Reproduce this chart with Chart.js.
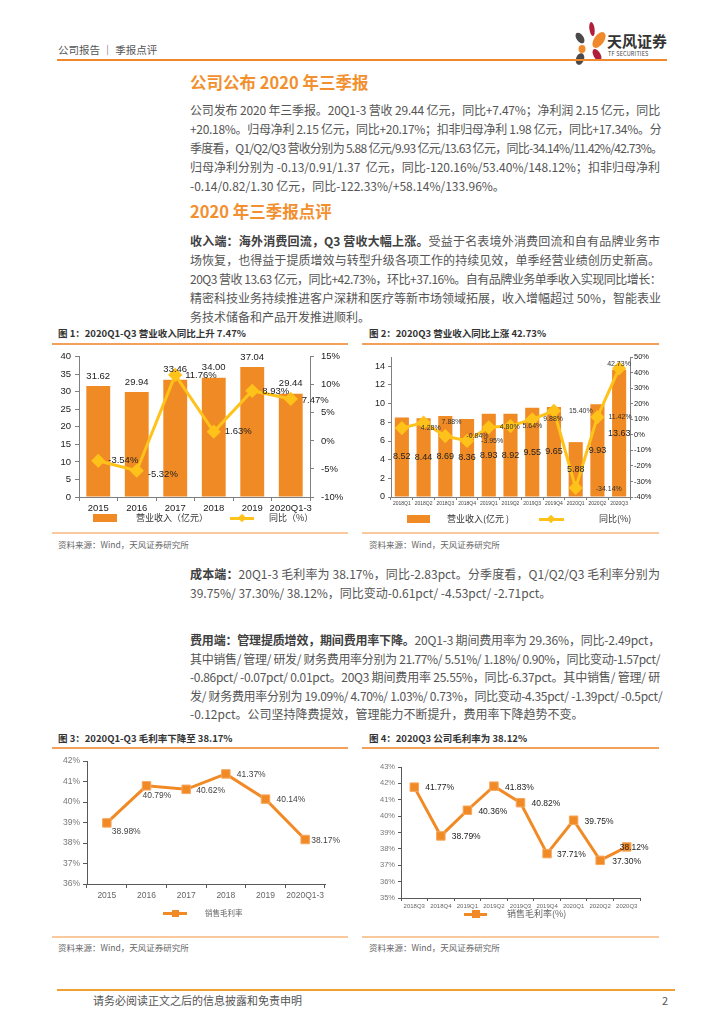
<!DOCTYPE html>
<html>
<head>
<meta charset="utf-8">
<script src="https://cdn.jsdelivr.net/npm/chart.js@4.4.1/dist/chart.umd.min.js"></script>
<style>
  html, body { margin: 0; padding: 0; background: #fff; }
  body { width: 724px; height: 1024px; position: relative; overflow: hidden; font-family: "Noto Sans CJK SC", sans-serif; color: #555; }
  .abs { position: absolute; }
  .rule { position: absolute; height: 2px; background: #F0892B; }
  .h1 { position: absolute; left: 190px; font-size: 16.5px; font-weight: 700; color: #F2902F; line-height: 24px; white-space: nowrap; }
  .para { position: absolute; left: 190px; width: 470px; font-size: 12px; }
  .ln { white-space: nowrap; text-align: justify; text-align-last: justify; height: 19px; line-height: 19px; }
  .ln.last { text-align-last: left; }
  .p2 .ln { height: 18.5px; line-height: 18.5px; }
  b { color: #404040; font-weight: 700; }
  .ftitle { position: absolute; font-size: 9.5px; font-weight: 700; color: #333; line-height: 14px; white-space: nowrap; }
  .fline { position: absolute; height: 1.5px; background: #F3A15A; }
  .fbot { position: absolute; height: 2px; background: #F9C89C; }
  .src { position: absolute; font-size: 8.5px; color: #666; line-height: 12px; white-space: nowrap; }
  .box { position: absolute; }
  .lg { position: absolute; white-space: nowrap; line-height: 12px; }
</style>
</head>
<body>

<!-- header -->
<div class="abs" style="left:58px;top:43px;font-size:10.5px;color:#555;line-height:14px;">公司报告 ｜ 季报点评</div>
<svg class="abs" style="left:566px;top:18px" width="40" height="48" viewBox="566 18 40 48">
  <ellipse cx="592" cy="29" rx="2.6" ry="7" fill="#B01E3C" transform="rotate(-8 592 29)"/>
  <ellipse cx="599" cy="40" rx="5" ry="9" fill="#F0892B" transform="rotate(35 599 40)"/>
  <ellipse cx="580" cy="38" rx="3.5" ry="6" fill="#4A4A4A" transform="rotate(-35 580 38)"/>
  <ellipse cx="582" cy="49" rx="3.5" ry="4" fill="#F0892B"/>
  <ellipse cx="597" cy="55" rx="3.5" ry="6.5" fill="#B01E3C" transform="rotate(-30 597 55)"/>
  <ellipse cx="580" cy="59" rx="4" ry="6" fill="#4A4A4A" transform="rotate(20 580 59)"/>
</svg>
<div class="abs" style="left:607px;top:32px;font-size:15px;font-weight:700;color:#333;line-height:18px;">天风证券</div>
<div class="abs" style="left:608px;top:51px;font-size:5.5px;color:#444;line-height:7px;letter-spacing:0.2px;">TF SECURITIES</div>
<div class="rule" style="left:57px;top:59px;width:610px;"></div>

<!-- section 1 -->
<div class="h1" style="top:70px;">公司公布 2020 年三季报</div>
<div class="para" style="top:100px;">
  <div class="ln">公司发布 2020 年三季报。20Q1-3 营收 29.44 亿元，同比+7.47%；净利润 2.15 亿元，同比</div>
  <div class="ln">+20.18%。归母净利 2.15 亿元，同比+20.17%；扣非归母净利 1.98 亿元，同比+17.34%。分</div>
  <div class="ln">季度看，Q1/Q2/Q3 营收分别为 5.88 亿元/9.93 亿元/13.63 亿元，同比-34.14%/11.42%/42.73%。</div>
  <div class="ln">归母净利分别为 -0.13/0.91/1.37 &nbsp;亿元，同比-120.16%/53.40%/148.12%；扣非归母净利</div>
  <div class="ln last">-0.14/0.82/1.30 亿元，同比-122.33%/+58.14%/133.96%。</div>
</div>

<div class="h1" style="top:199px;">2020 年三季报点评</div>
<div class="para" style="top:231px;">
  <div class="ln"><b>收入端：海外消费回流，Q3 营收大幅上涨。</b>受益于名表境外消费回流和自有品牌业务市</div>
  <div class="ln">场恢复，也得益于提质增效与转型升级各项工作的持续见效，单季经营业绩创历史新高。</div>
  <div class="ln">20Q3 营收 13.63 亿元，同比+42.73%，环比+37.16%。自有品牌业务单季收入实现同比增长：</div>
  <div class="ln">精密科技业务持续推进客户深耕和医疗等新市场领域拓展，收入增幅超过 50%，智能表业</div>
  <div class="ln last">务技术储备和产品开发推进顺利。</div>
</div>

<!-- figure 1 & 2 frames -->
<div class="ftitle" style="left:58px;top:326px;">图 1：2020Q1-Q3 营业收入同比上升 7.47%</div>
<div class="fline" style="left:52px;top:343px;width:296px;"></div>
<div class="fbot" style="left:52px;top:532px;width:296px;"></div>
<div class="src" style="left:58px;top:538px;">资料来源：Wind，天风证券研究所</div>

<div class="ftitle" style="left:369px;top:326px;">图 2：2020Q3 营业收入同比上涨 42.73%</div>
<div class="fline" style="left:362px;top:343px;width:297px;"></div>
<div class="fbot" style="left:362px;top:532px;width:297px;"></div>
<div class="src" style="left:369px;top:538px;">资料来源：Wind，天风证券研究所</div>

<div class="box" style="left:40px;top:344px;width:312px;height:171px;"><canvas id="c1"></canvas></div>
<div class="box" style="left:362px;top:345px;width:290px;height:170px;"><canvas id="c2"></canvas></div>

<!-- legends 1 & 2 -->
<div class="abs" style="left:93px;top:514px;width:24px;height:8px;background:#F08A24;"></div>
<div class="lg" style="left:136px;top:512px;font-size:9px;color:#333;">营业收入（亿元）</div>
<div class="abs" style="left:230px;top:516.5px;width:24px;height:3px;background:#FFC21A;"></div>
<div class="abs" style="left:239px;top:515px;width:6px;height:6px;background:#FFC21A;transform:rotate(45deg);"></div>
<div class="lg" style="left:269px;top:512px;font-size:9px;color:#333;">同比（%）</div>

<div class="abs" style="left:407px;top:515px;width:23px;height:8px;background:#F08A24;"></div>
<div class="lg" style="left:447px;top:513px;font-size:9px;color:#333;">营业收入(亿元 )</div>
<div class="abs" style="left:539px;top:517.5px;width:25px;height:3px;background:#FFC21A;"></div>
<div class="abs" style="left:548px;top:516px;width:6px;height:6px;background:#FFC21A;transform:rotate(45deg);"></div>
<div class="lg" style="left:599px;top:513px;font-size:9px;color:#333;">同比(%)</div>

<!-- section text -->
<div class="para p2" style="top:565px;">
  <div class="ln"><b>成本端：</b>20Q1-3 毛利率为 38.17%，同比-2.83pct。分季度看，Q1/Q2/Q3 毛利率分别为</div>
  <div class="ln last">39.75%/ 37.30%/ 38.12%，同比变动-0.61pct/ -4.53pct/ -2.71pct。</div>
</div>
<div class="para p2" style="top:631px;">
  <div class="ln"><b>费用端：管理提质增效，期间费用率下降。</b>20Q1-3 期间费用率为 29.36%，同比-2.49pct，</div>
  <div class="ln">其中销售/ 管理/ 研发/ 财务费用率分别为 21.77%/ 5.51%/ 1.18%/ 0.90%，同比变动-1.57pct/</div>
  <div class="ln">-0.86pct/ -0.07pct/ 0.01pct。20Q3 期间费用率 25.55%，同比-6.37pct。其中销售/ 管理/ 研</div>
  <div class="ln">发/ 财务费用率分别为 19.09%/ 4.70%/ 1.03%/ 0.73%，同比变动-4.35pct/ -1.39pct/ -0.5pct/</div>
  <div class="ln last">-0.12pct。公司坚持降费提效，管理能力不断提升，费用率下降趋势不变。</div>
</div>

<!-- figure 3 & 4 frames -->
<div class="ftitle" style="left:58px;top:731px;">图 3：2020Q1-Q3 毛利率下降至 38.17%</div>
<div class="fline" style="left:52px;top:747px;width:296px;"></div>
<div class="fbot" style="left:52px;top:936px;width:296px;"></div>
<div class="src" style="left:58px;top:941px;">资料来源：Wind，天风证券研究所</div>

<div class="ftitle" style="left:369px;top:731px;">图 4：2020Q3 公司毛利率为 38.12%</div>
<div class="fline" style="left:362px;top:747px;width:297px;"></div>
<div class="fbot" style="left:362px;top:936px;width:297px;"></div>
<div class="src" style="left:369px;top:941px;">资料来源：Wind，天风证券研究所</div>

<div class="box" style="left:40px;top:750px;width:300px;height:155px;"><canvas id="c3"></canvas></div>
<div class="box" style="left:362px;top:755px;width:290px;height:160px;"><canvas id="c4"></canvas></div>

<!-- legends 3 & 4 -->
<div class="abs" style="left:163px;top:911.5px;width:24px;height:3px;background:#F18A25;"></div>
<div class="abs" style="left:171.5px;top:909.5px;width:7px;height:7px;background:#F18A25;"></div>
<div class="lg" style="left:205px;top:907px;font-size:7.5px;color:#666;">销售毛利率</div>
<div class="abs" style="left:464px;top:912.5px;width:23px;height:3px;background:#F18A25;"></div>
<div class="abs" style="left:472px;top:910px;width:8px;height:8px;background:#F18A25;"></div>
<div class="lg" style="left:507px;top:908px;font-size:9px;color:#666;">销售毛利率(%)</div>

<!-- footer -->
<div class="rule" style="left:57px;top:989px;width:618px;height:2px;background:#F0A030;"></div>
<div class="abs" style="left:93px;top:993px;font-size:11px;color:#555;line-height:14px;">请务必阅读正文之后的信息披露和免责申明</div>
<div class="abs" style="left:662px;top:993px;font-size:11px;color:#555;line-height:14px;">2</div>

<script>
// figure 1: annual revenue and yoy
const years = ['2015', '2016', '2017', '2018', '2019', '2020Q1-3'];
const revenue = [31.62, 29.94, 33.46, 34.00, 37.04, 29.44];
const revenueYoy = [-3.54, -5.32, 11.76, 1.63, 8.93, 7.47];

// figure 2: quarterly revenue and yoy
const quarters = ['2018Q1', '2018Q2', '2018Q3', '2018Q4', '2019Q1', '2019Q2', '2019Q3', '2019Q4', '2020Q1', '2020Q2', '2020Q3'];
const qRevenue = [8.52, 8.44, 8.69, 8.36, 8.93, 8.92, 9.55, 9.65, 5.88, 9.93, 13.63];
const qYoy = [4.28, 7.88, -0.84, -3.95, 4.80, 5.64, 9.88, 15.40, -34.14, 11.42, 42.73];

// figure 3: annual gross margin
const grossMargin = [38.98, 40.79, 40.62, 41.37, 40.14, 38.17];

// figure 4: quarterly gross margin
const marginQuarters = ['2018Q3', '2018Q4', '2019Q1', '2019Q2', '2019Q3', '2019Q4', '2020Q1', '2020Q2', '2020Q3'];
const qGrossMargin = [41.77, 38.79, 40.36, 41.83, 40.82, 37.71, 39.75, 37.30, 38.12];

const ORANGE = '#F08A24';
const YELLOW = '#FFC21A';
const LINE_ORANGE = '#F18A25';
const SANS = "'Liberation Sans', Arial, sans-serif";

// squeeze text lines that run past the column
document.querySelectorAll('.ln').forEach(ln => {
    let ls = 0;
    while (ln.scrollWidth > ln.clientWidth + 2 && ls > -1.5) {
        ls -= 0.1;
        ln.style.letterSpacing = ls.toFixed(1) + 'px';
    }
});

Chart.defaults.font.family = SANS;
Chart.defaults.color = '#333';
Chart.defaults.animation = false;

// draws value labels next to points / on bars
const pointLabels = {
    id: 'pointLabels',
    afterDatasetsDraw(chart, args, opts) {
        const ctx = chart.ctx;
        (opts.sets || []).forEach(set => {
            const meta = chart.getDatasetMeta(set.dataset);
            const values = chart.data.datasets[set.dataset].data;
            ctx.save();
            ctx.font = set.font;
            ctx.fillStyle = set.color || '#222';
            ctx.textBaseline = 'middle';
            meta.data.forEach((el, i) => {
                const pick = (v, d) => Array.isArray(v) ? v[i] : (v === undefined ? d : v);
                const y = set.middle ? (el.y + el.base) / 2 : el.y;
                ctx.textAlign = pick(set.align, 'center');
                ctx.fillText(set.format(values[i]), el.x + pick(set.dx, 0), y + pick(set.dy, 0));
            });
            ctx.restore();
        });
    }
};

const fixW = w => s => { s.width = w; };
const fixH = h => s => { s.height = h; };
const pct = v => v + '%';
const pct2 = v => v.toFixed(2) + '%';

const axis = (color, len, extra) => Object.assign({
    grid: { drawOnChartArea: false, drawTicks: true, tickLength: len, color: color },
    border: { display: true, color: color, width: 1 }
}, extra);

// figure 1
new Chart(document.getElementById('c1'), {
    type: 'bar',
    data: {
        labels: years,
        datasets: [{
            type: 'line', data: revenueYoy, yAxisID: 'y1', order: 0,
            borderColor: YELLOW, backgroundColor: YELLOW, borderWidth: 3,
            pointStyle: 'rectRot', pointRadius: 5, pointBackgroundColor: YELLOW, pointBorderColor: YELLOW
        }, {
            type: 'bar', data: revenue, yAxisID: 'y', order: 1,
            backgroundColor: ORANGE, categoryPercentage: 1, barPercentage: 0.62
        }]
    },
    options: {
        responsive: true, maintainAspectRatio: false, animation: false,
        layout: { padding: { top: 12 } },
        plugins: {
            legend: { display: false }, tooltip: { enabled: false },
            pointLabels: { sets: [
                { dataset: 1, font: '9.5px ' + SANS, color: '#222', format: v => v.toFixed(2), dy: -10 },
                { dataset: 0, font: '9.5px ' + SANS, color: '#222', format: pct2, align: 'left',
                  dx: [10, 11, 10, 11, 10, 11], dy: [0, 4, 0, 0, 1, 1] }
            ] }
        },
        scales: {
            x: axis('#7F7F7F', 4, { ticks: { font: { size: 9.5 }, color: '#222', padding: 2, maxRotation: 0, autoSkip: false }, afterFit: fixH(18) }),
            y: axis('#7F7F7F', 4, { position: 'left', min: 0, max: 40,
                ticks: { stepSize: 5, font: { size: 9.5 }, color: '#222', padding: 4 }, afterFit: fixW(39) }),
            y1: axis('#7F7F7F', 4, { position: 'right', min: -10, max: 15,
                ticks: { stepSize: 5, font: { size: 9.5 }, color: '#222', padding: 7, callback: pct }, afterFit: fixW(42) })
        }
    },
    plugins: [pointLabels]
});

// figure 2
new Chart(document.getElementById('c2'), {
    type: 'bar',
    data: {
        labels: quarters,
        datasets: [{
            type: 'line', data: qYoy, yAxisID: 'y1', order: 0,
            borderColor: YELLOW, backgroundColor: YELLOW, borderWidth: 3,
            pointStyle: 'rectRot', pointRadius: 5, pointBackgroundColor: YELLOW, pointBorderColor: YELLOW
        }, {
            type: 'bar', data: qRevenue, yAxisID: 'y', order: 1,
            backgroundColor: ORANGE, categoryPercentage: 1, barPercentage: 0.65
        }]
    },
    options: {
        responsive: true, maintainAspectRatio: false, animation: false,
        layout: { padding: { top: 12 } },
        plugins: {
            legend: { display: false }, tooltip: { enabled: false },
            pointLabels: { sets: [
                { dataset: 1, font: '9px ' + SANS, color: '#222', format: v => v.toFixed(2), middle: true },
                { dataset: 0, font: '7px ' + SANS, color: '#333', format: pct2, align: 'left',
                  dx: [19, 18, 21, 14, 11, 12, 11, 15, 20, 11, -12], dy: [0, 0, 0, 0, 0, 0, 0, 0, 1, 0, -4] }
            ] }
        },
        scales: {
            x: axis('#7F7F7F', 3, { ticks: { font: { size: 5 }, color: '#444', padding: 1, maxRotation: 0, autoSkip: false }, afterFit: fixH(18) }),
            y: axis('#7F7F7F', 3, { position: 'left', min: 0, max: 15,
                ticks: { stepSize: 2, includeBounds: false, font: { size: 9 }, color: '#222', padding: 3 },
                afterFit: fixW(29) }),
            y1: axis('#7F7F7F', 3, { position: 'right', min: -40, max: 50,
                ticks: { stepSize: 10, font: { size: 7.5 }, color: '#222', padding: 1, callback: pct }, afterFit: fixW(22) })
        }
    },
    plugins: [pointLabels]
});

// figure 3
new Chart(document.getElementById('c3'), {
    type: 'line',
    data: {
        labels: years,
        datasets: [{
            data: grossMargin, borderColor: LINE_ORANGE, backgroundColor: LINE_ORANGE, borderWidth: 3,
            pointStyle: 'rect', pointRadius: 6, pointBackgroundColor: LINE_ORANGE,
            pointBorderColor: '#F6A860', pointBorderWidth: 1, tension: 0
        }]
    },
    options: {
        responsive: true, maintainAspectRatio: false, animation: false,
        layout: { padding: { top: 11, right: 15 } },
        plugins: {
            legend: { display: false }, tooltip: { enabled: false },
            pointLabels: { sets: [
                { dataset: 0, font: '8.5px ' + SANS, color: '#444', format: pct2, align: 'left',
                  dx: [5, -4, 10, 11, 11, 6], dy: [9, 10, 1, 1, 1, 1] }
            ] }
        },
        scales: {
            x: axis('#595959', 4, { offset: true, grid: { offset: true, drawOnChartArea: false, tickLength: 4, color: '#595959' },
                ticks: { font: { size: 8.5 }, color: '#666', padding: 3, maxRotation: 0, autoSkip: false }, afterFit: fixH(21) }),
            y: axis('#595959', 4, { min: 36, max: 42,
                ticks: { stepSize: 1, font: { size: 8.5 }, color: '#777', padding: 3, callback: pct }, afterFit: fixW(47) })
        }
    },
    plugins: [pointLabels]
});

// figure 4
new Chart(document.getElementById('c4'), {
    type: 'line',
    data: {
        labels: marginQuarters,
        datasets: [{
            data: qGrossMargin, borderColor: LINE_ORANGE, backgroundColor: LINE_ORANGE, borderWidth: 3,
            pointStyle: 'rect', pointRadius: 6, pointBackgroundColor: LINE_ORANGE,
            pointBorderColor: '#F6A860', pointBorderWidth: 1, tension: 0
        }]
    },
    options: {
        responsive: true, maintainAspectRatio: false, animation: false,
        layout: { padding: { top: 12, right: 12 } },
        plugins: {
            legend: { display: false }, tooltip: { enabled: false },
            pointLabels: { sets: [
                { dataset: 0, font: '8.5px ' + SANS, color: '#222', format: pct2, align: 'left',
                  dx: [11, 11, 11, 11, 11, 10, 11, 12, -7], dy: [1, 1, 1, 1, 1, 1, 1, 1, 1] }
            ] }
        },
        scales: {
            x: axis('#595959', 3, { offset: true, grid: { offset: true, drawOnChartArea: false, tickLength: 3, color: '#595959' },
                ticks: { font: { size: 6 }, color: '#666', padding: 2, maxRotation: 0, autoSkip: false }, afterFit: fixH(17) }),
            y: axis('#595959', 3, { min: 35, max: 43,
                ticks: { stepSize: 1, font: { size: 7.5 }, color: '#777', padding: 3, callback: pct }, afterFit: fixW(39) })
        }
    },
    plugins: [pointLabels]
});
</script>
</body>
</html>
